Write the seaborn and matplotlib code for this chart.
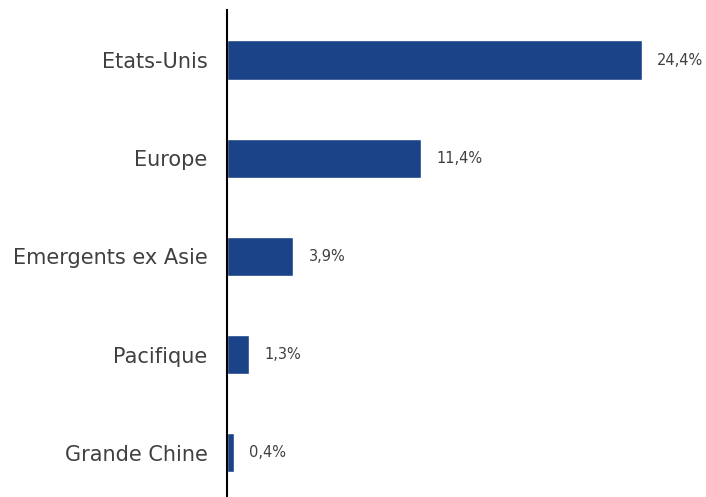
import matplotlib
matplotlib.use("Agg")
import matplotlib.pyplot as plt
import seaborn as sns
import pandas as pd

categories = ["Etats-Unis", "Europe", "Emergents ex Asie", "Pacifique", "Grande Chine"]
values = [24.4, 11.4, 3.9, 1.3, 0.4]
labels = ["24,4%", "11,4%", "3,9%", "1,3%", "0,4%"]

sns.set_style("white")
plt.rcParams['font.family'] = ['DejaVu Sans']

df = pd.DataFrame({"cat": categories, "val": values})

fig = plt.figure(figsize=(7.06, 4.97), dpi=100)
ax = fig.add_axes([227/706, 0, 479/706, 487/497])
sns.barplot(data=df, x="val", y="cat", orient="h", color="#1B4387", width=0.4,
            saturation=1, ax=ax)
ax.set_xlim(0, 479/17.0)
ax.set_ylim(4.45, -0.51)
for i, (v, t) in enumerate(zip(values, labels)):
    ax.text(v + 0.9, i, t, va="center", ha="left", fontsize=10.5, color="#404040")
for s in ["top", "right", "bottom"]:
    ax.spines[s].set_visible(False)
ax.spines["left"].set_color("black")
ax.spines["left"].set_linewidth(1.5)
ax.set_xticks([])
ax.set_xlabel("")
ax.set_ylabel("")
ax.tick_params(axis="y", length=0, pad=14, labelsize=15, labelcolor="#404040")
fig.savefig("out.png", dpi=100)
